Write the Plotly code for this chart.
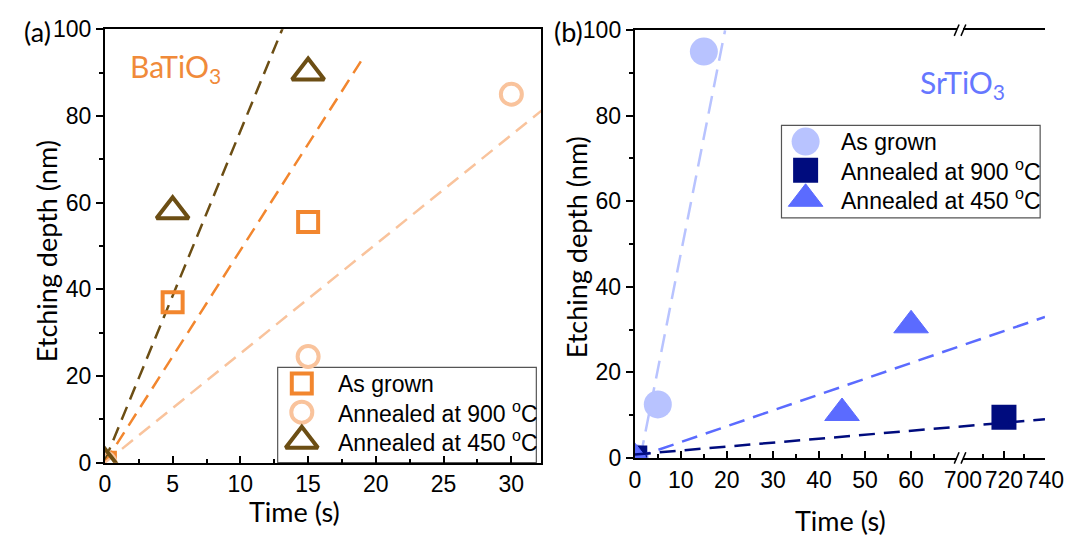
import plotly.graph_objects as go

W, H = 1091, 550

# ---------------- (a) BaTiO3 ----------------
bto_time_grown = [0, 5, 15]
bto_depth_grown = [0, 37, 55.5]
bto_time_900 = [0, 15, 30]
bto_depth_900 = [0, 24.5, 85]
bto_time_450 = [0, 5, 15]
bto_depth_450 = [0, 58, 90]
# linear fits: (slope nm/s, intercept nm, last time s)
bto_fit_grown = (4.9, 0.0, 19.1)
bto_fit_900 = (2.52, 0.0, 33.0)
bto_fit_450 = (7.6, 0.5, 14.0)

# ---------------- (b) SrTiO3 ----------------
sto_time_grown = [0, 5, 15]
sto_depth_grown = [0, 12.5, 95]
sto_time_900 = [0, 720]
sto_depth_900 = [0, 9.5]
sto_time_450 = [0, 45, 60]
sto_depth_450 = [0, 10.5, 31]
# as-grown fit (slope, intercept) on the 0-70 s segment
sto_fit_grown = (5.43, -6.5)
# fits drawn straight across the broken axis, in 0-70 s segment units
sto_fit_450 = (0.37, 0.0)
sto_fit_900 = (0.0925, 0.8)

legend_labels = ["As grown", "Annealed at 900 <sup>o</sup>C", "Annealed at 450 <sup>o</sup>C"]

x_tick_a = [0, 5, 10, 15, 20, 25, 30]
x_tick_b1 = [0, 10, 20, 30, 40, 50, 60]
x_tick_b2 = [700, 720, 740]
y_ticks = [0, 20, 40, 60, 80, 100]

# colours
C_GROWN_A = "#F2862E"
C_900_A = "#F9C39C"
C_450_A = "#6C4E14"
C_GROWN_B = "#B8C3FF"
C_900_B = "#000C7E"
C_450_B = "#5B6BFF"

SANS = "Arial"
TICK_FONT = dict(family=SANS, size=23, color="black")
TITLE_FONT = dict(family="Lato", size=27, color="black")
LEG_FONT = dict(family=SANS, size=23, color="black")

# marker styles per series
M_GROWN_A = dict(symbol="square-open", size=20, color=C_GROWN_A, line=dict(width=4, color=C_GROWN_A))
M_900_A = dict(symbol="circle-open", size=21, color=C_900_A, line=dict(width=4, color=C_900_A))
M_450_A = dict(symbol="triangle-up-open", size=28, color=C_450_A, line=dict(width=4, color=C_450_A))
M_GROWN_B = dict(symbol="circle", size=28, color=C_GROWN_B)
M_900_B = dict(symbol="square", size=25, color=C_900_B)
M_450_B = dict(symbol="triangle-up", size=30, color=C_450_B, line=dict(width=1, color=C_450_B))


def px(x):
    return x / W


def py(y):
    return 1 - y / H


# panel geometry (pixels)
A_L, A_R, A_TOP, A_BOT = 89, 541, 17, 472
B1_L, B1_R = 638, 972
B2_L, B2_R = 978, 1063
B_TOP, B_BOT = 18, 467

# legend boxes (pixels): left, right, top, bottom
LEG_A = (268, 536, 372, 472)
LEG_B = (790, 1058, 118, 215)
ROW_H = 30

seg1_range = [0, 70]
seg2_range = [700, 740]
full_b_units = seg1_range[1] * (B2_R - B1_L) / (B1_R - B1_L)

fig = go.Figure()

# ---- panel (a) fits ----
for (slope, icpt, tend), col in [(bto_fit_450, C_450_A), (bto_fit_grown, C_GROWN_A), (bto_fit_900, C_900_A)]:
    fig.add_trace(go.Scatter(x=[0, tend], y=[icpt, icpt + slope * tend], mode="lines",
                             line=dict(color=col, width=2.5, dash="14px,8px"),
                             hoverinfo="skip", xaxis="x", yaxis="y"))

# ---- panel (a) data ----
for t, d, m, name in [(bto_time_grown, bto_depth_grown, M_GROWN_A, legend_labels[0]),
                      (bto_time_900, bto_depth_900, M_900_A, legend_labels[1]),
                      (bto_time_450, bto_depth_450, M_450_A, legend_labels[2])]:
    fig.add_trace(go.Scatter(x=t, y=d, mode="markers", name=name, marker=m, xaxis="x", yaxis="y"))

# ---- panel (b) fits ----
s, b = sto_fit_grown
fig.add_trace(go.Scatter(x=[(0 - b) / s, (100 - b) / s], y=[0, 100], mode="lines",
                         line=dict(color=C_GROWN_B, width=2.5, dash="18px,9px"),
                         hoverinfo="skip", xaxis="x2", yaxis="y2"))
for (slope, icpt), col in [(sto_fit_450, C_450_B), (sto_fit_900, C_900_B)]:
    fig.add_trace(go.Scatter(x=[0, full_b_units], y=[icpt, icpt + slope * full_b_units], mode="lines",
                             line=dict(color=col, width=2.5, dash="16px,9px"),
                             hoverinfo="skip", xaxis="x4", yaxis="y2"))

# ---- panel (b) data (split over the two time segments) ----
for t, d, m, name in [(sto_time_grown, sto_depth_grown, M_GROWN_B, legend_labels[0]),
                      (sto_time_900, sto_depth_900, M_900_B, legend_labels[1]),
                      (sto_time_450, sto_depth_450, M_450_B, legend_labels[2])]:
    lo = [(ti, di) for ti, di in zip(t, d) if ti <= seg1_range[1]]
    hi = [(ti, di) for ti, di in zip(t, d) if ti >= seg2_range[0]]
    if lo:
        fig.add_trace(go.Scatter(x=[p[0] for p in lo], y=[p[1] for p in lo], mode="markers",
                                 name=name, marker=m, xaxis="x2", yaxis="y2"))
    if hi:
        fig.add_trace(go.Scatter(x=[p[0] for p in hi], y=[p[1] for p in hi], mode="markers",
                                 name=name, marker=m, xaxis="x3", yaxis="y2"))


# ---- legends: symbol + label rows inside a framed box ----
def add_legend(box, styles, axis_id):
    l, r, t, bt = box
    sym_x = l + 25
    for i, (m, label) in enumerate(zip(styles, legend_labels)):
        row_y = t + 17 + i * ROW_H
        fig.add_trace(go.Scatter(x=[sym_x], y=[row_y], mode="markers", marker=m,
                                 xaxis="x" + axis_id, yaxis="y" + axis_id, hoverinfo="skip"))
        fig.add_annotation(text=label, x=px(sym_x + 35), y=py(row_y), xref="paper", yref="paper",
                           xanchor="left", yanchor="middle", showarrow=False, font=LEG_FONT)
    fig.add_shape(type="rect", xref="paper", yref="paper", x0=px(l), x1=px(r), y0=py(bt), y1=py(t),
                  line=dict(color="#555", width=1.2), fillcolor="white", layer="below")
    return dict(visible=False, domain=[px(l), px(r)], range=[l, r]), \
        dict(visible=False, domain=[py(bt), py(t)], range=[bt, t])


leg_a_x, leg_a_y = add_legend(LEG_A, [M_GROWN_A, M_900_A, M_450_A], "5")
leg_b_x, leg_b_y = add_legend(LEG_B, [M_GROWN_B, M_900_B, M_450_B], "6")

axis_common = dict(showgrid=False, zeroline=False, showline=True, linecolor="black", linewidth=2,
                   tickfont=TICK_FONT, tickcolor="black", tickwidth=1.5)

xin = dict(ticks="inside", ticklen=7, mirror=True, tickangle=0)
yout = dict(ticks="outside", ticklen=7, tickmode="array", tickvals=y_ticks, range=[0, 100],
            minor=dict(dtick=10, tick0=0, ticks="outside", ticklen=4, tickcolor="black", tickwidth=1.5))
b_dom = [py(B_BOT), py(B_TOP)]

fig.update_layout(
    width=W, height=H,
    margin=dict(l=0, r=0, t=0, b=0),
    paper_bgcolor="white", plot_bgcolor="rgba(0,0,0,0)",
    showlegend=False,
    xaxis=dict(**axis_common, **xin, domain=[px(A_L), px(A_R)], range=[0, 32.2], anchor="y",
               tickmode="array", tickvals=x_tick_a,
               minor=dict(dtick=2.5, tick0=0, ticks="inside", ticklen=4, tickcolor="black", tickwidth=1.5)),
    yaxis=dict(**axis_common, **yout, mirror=True, domain=[py(A_BOT), py(A_TOP)], anchor="x"),
    xaxis2=dict(**axis_common, **xin, domain=[px(B1_L), px(B1_R)], range=seg1_range, anchor="y2",
                tickmode="array", tickvals=x_tick_b1,
                minor=dict(dtick=5, tick0=0, ticks="inside", ticklen=4, tickcolor="black", tickwidth=1.5)),
    xaxis3=dict(**axis_common, **xin, domain=[px(B2_L), px(B2_R)], range=seg2_range, anchor="y2",
                tickmode="array", tickvals=x_tick_b2,
                minor=dict(dtick=10, tick0=0, ticks="inside", ticklen=4, tickcolor="black", tickwidth=1.5)),
    xaxis4=dict(visible=False, domain=[px(B1_L), px(B2_R)], range=[0, full_b_units], anchor="y2"),
    yaxis2=dict(**axis_common, **yout, domain=b_dom, anchor="x2"),
    yaxis3=dict(showgrid=False, zeroline=False, showline=True, linecolor="black", linewidth=2,
                ticks="", showticklabels=False, range=[0, 100], domain=b_dom,
                anchor="x3", side="right"),
    xaxis5=dict(**leg_a_x, anchor="y5"), yaxis5=dict(**leg_a_y, anchor="x5"),
    xaxis6=dict(**leg_b_x, anchor="y6"), yaxis6=dict(**leg_b_y, anchor="x6"),
)

# axis titles and panel labels
annots = [
    dict(text="Time (s)", x=px(285), y=py(523), font=TITLE_FONT),
    dict(text="Time (s)", x=px(851), y=py(533), font=TITLE_FONT),
    dict(text="Etching depth (nm)", x=px(28), y=py(250), font=TITLE_FONT, textangle=-90),
    dict(text="Etching depth (nm)", x=px(578), y=py(246), font=TITLE_FONT, textangle=-90),
    dict(text="(a)", x=px(3), y=py(19), xanchor="left", font=TITLE_FONT),
    dict(text="(b)", x=px(552), y=py(19), xanchor="left", font=TITLE_FONT),
    dict(text="BaTiO<sub>3</sub>", x=px(162), y=py(58), font=dict(family="Lato", size=30, color="#F08A3A")),
    dict(text="SrTiO<sub>3</sub>", x=px(978), y=py(74), font=dict(family="Lato", size=30, color="#6677FF")),
]
for a in annots:
    a.setdefault("xanchor", "center")
    fig.add_annotation(xref="paper", yref="paper", showarrow=False, yanchor="middle", **a)

# axis break marks on the broken time axis
xb_mid = (B1_R + B2_L) / 2
for yb in (B_BOT, B_TOP):
    for xb in (xb_mid - 6, xb_mid + 1):
        fig.add_shape(type="line", xref="paper", yref="paper",
                      x0=px(xb), y0=py(yb + 6), x1=px(xb + 5), y1=py(yb - 6),
                      line=dict(color="black", width=1.5))

fig.write_html("out.html", post_script="document.body.style.margin='0';")
